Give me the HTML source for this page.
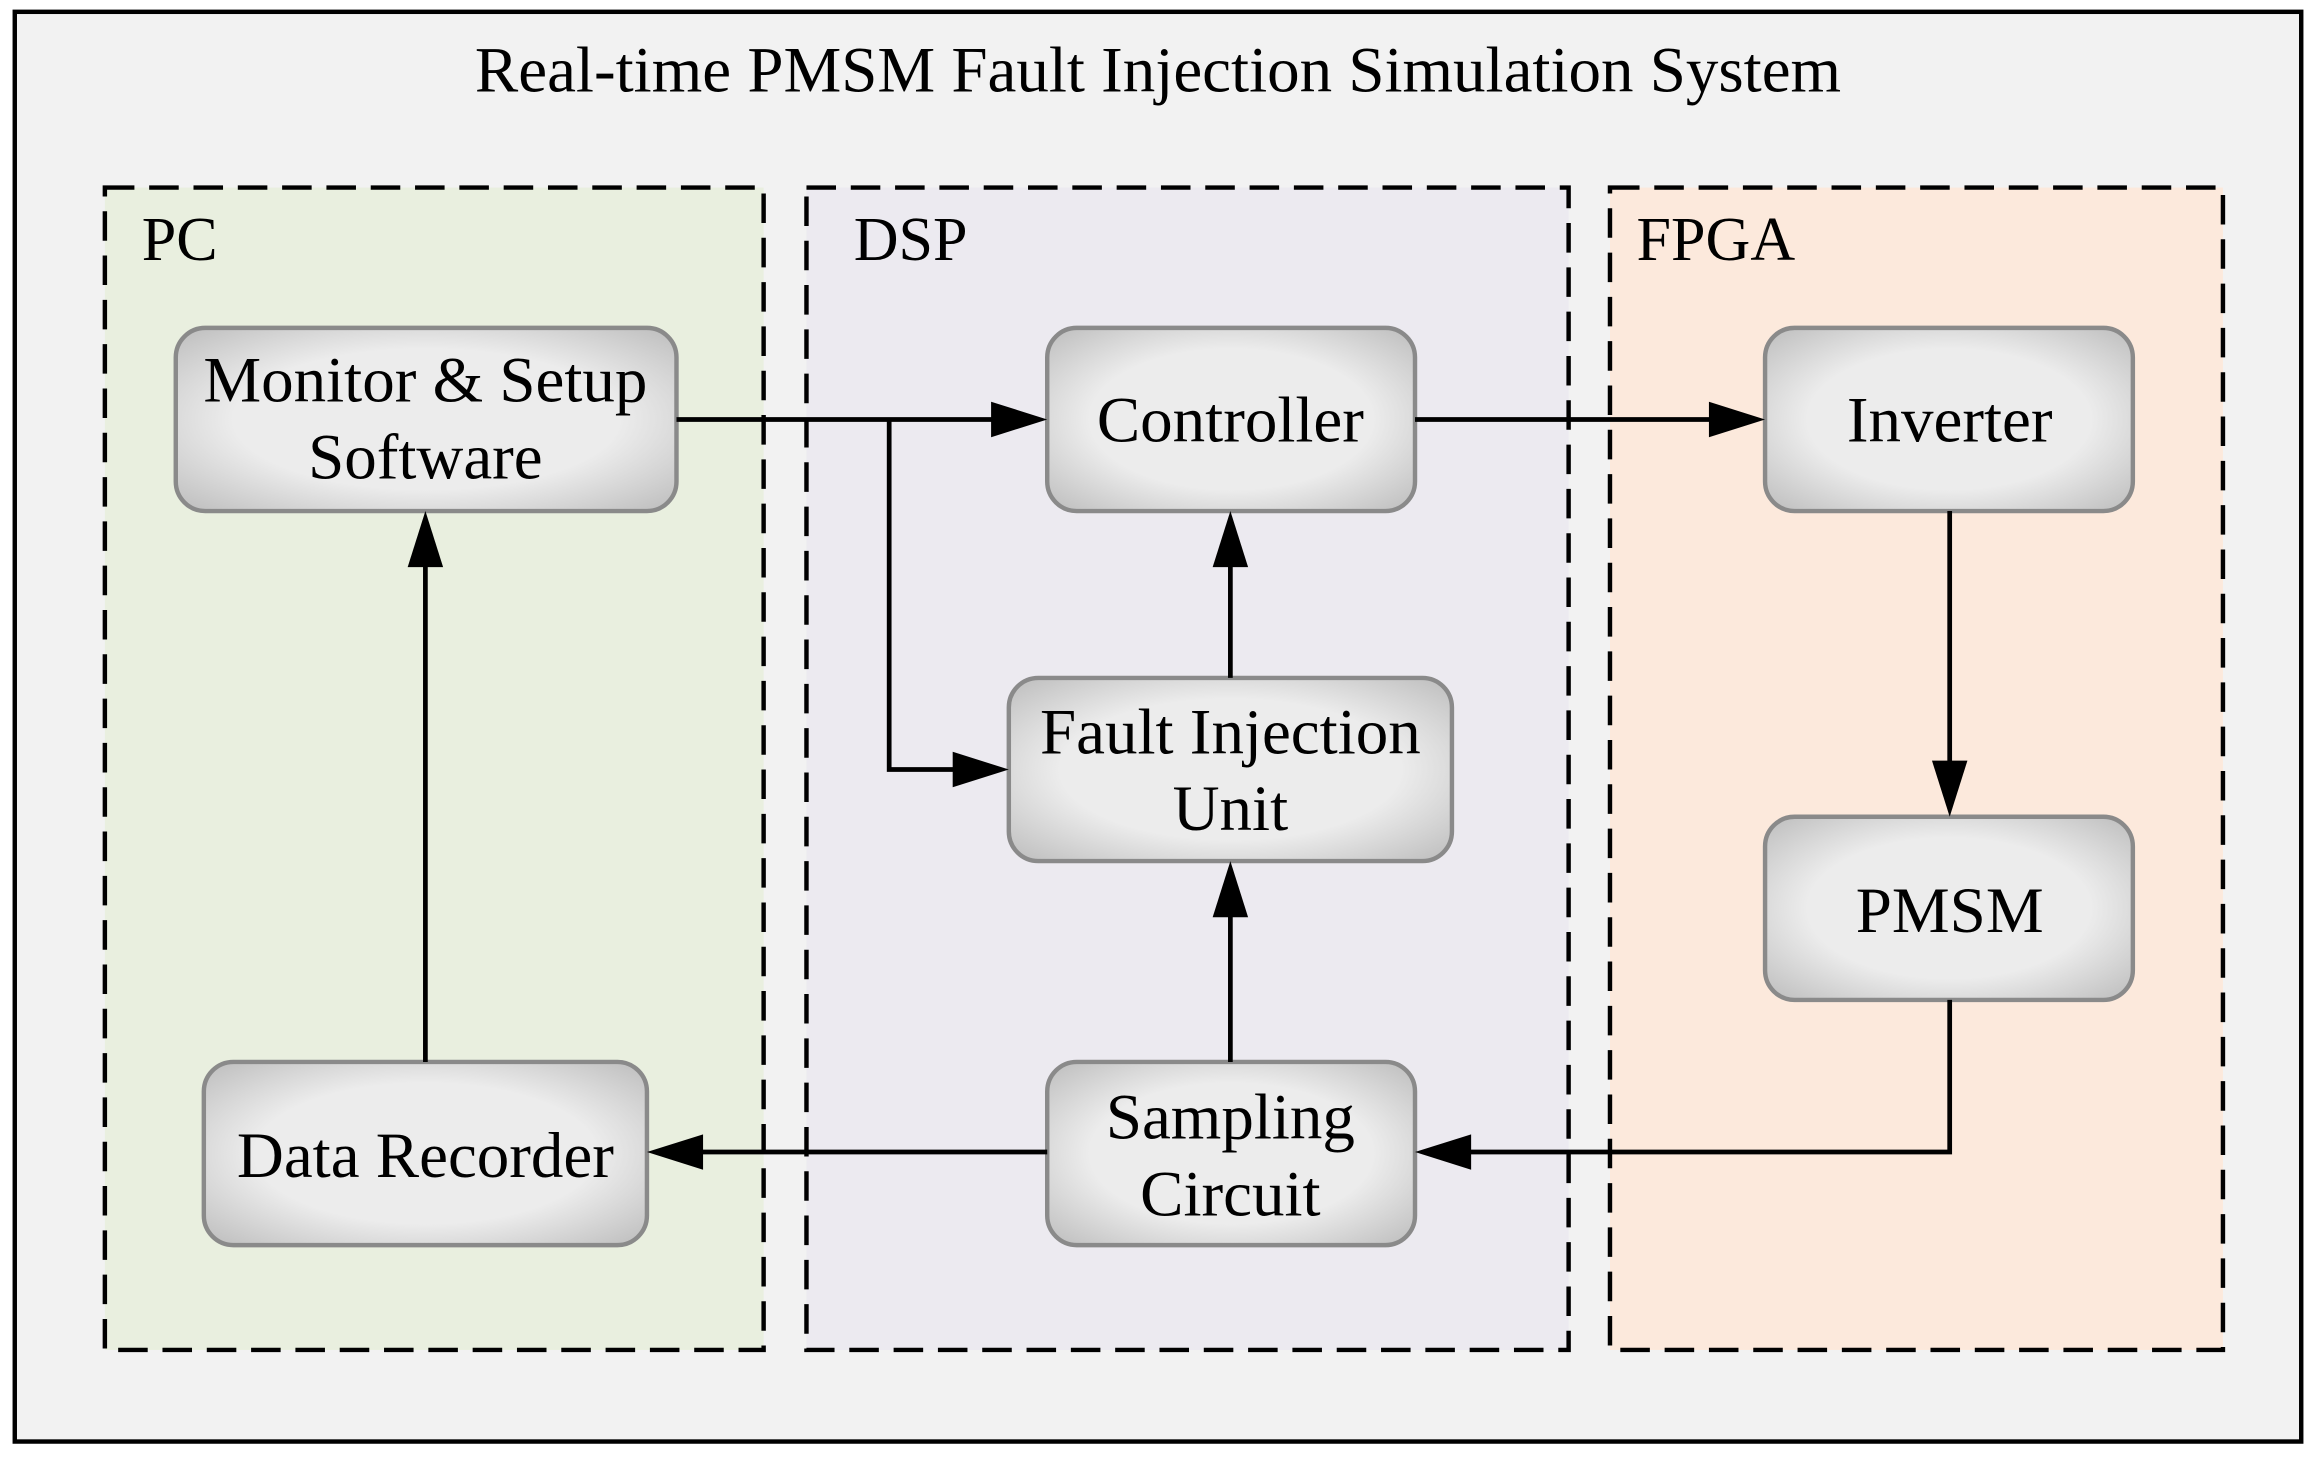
<!DOCTYPE html>
<html><head><meta charset="utf-8"><style>
html,body{margin:0;padding:0;background:#fff;}
svg{display:block;}
text{font-family:"Liberation Serif",serif;fill:#000;}
</style></head><body>
<svg width="2316" height="1460" viewBox="0 0 1568 988.5" preserveAspectRatio="none" xmlns="http://www.w3.org/2000/svg">
<defs>
<radialGradient id="g" cx="50%" cy="50%" r="70%">
<stop offset="0.55" stop-color="#ececec"/><stop offset="1" stop-color="#bdbdbd"/>
</radialGradient>
</defs>
<rect x="0" y="0" width="1568" height="988.5" fill="#fff"/>
<rect x="10" y="8" width="1548" height="968" fill="#f2f2f2" stroke="#000" stroke-width="3"/>
<text x="784" y="62" font-size="44" text-anchor="middle">Real-time PMSM Fault Injection Simulation System</text>
<g stroke="#000" stroke-width="3" stroke-dasharray="20,10">
<rect x="71" y="127" width="446" height="787" fill="#e9efdf"/>
<rect x="546" y="127" width="516" height="787" fill="#eceaf0"/>
<rect x="1090" y="127" width="415" height="787" fill="#fce9dc"/>
</g>
<text x="96" y="176" font-size="42">PC</text>
<text x="578" y="176" font-size="42">DSP</text>
<text x="1108" y="176" font-size="42">FPGA</text>
<g fill="url(#g)" stroke="#8a8a8a" stroke-width="3">
<rect x="119" y="222" width="339" height="124" rx="20"/>
<rect x="709" y="222" width="249" height="124" rx="20"/>
<rect x="1195" y="222" width="249" height="124" rx="20"/>
<rect x="683" y="459" width="300" height="124" rx="20"/>
<rect x="1195" y="553" width="249" height="124" rx="20"/>
<rect x="138" y="719" width="300" height="124" rx="20"/>
<rect x="709" y="719" width="249" height="124" rx="20"/>
</g>
<g font-size="44" text-anchor="middle">
<text x="288" y="272">Monitor &amp; Setup</text>
<text x="288" y="324">Software</text>
<text x="833" y="299">Controller</text>
<text x="1320" y="299">Inverter</text>
<text x="833" y="510">Fault Injection</text>
<text x="833" y="562">Unit</text>
<text x="1320" y="631">PMSM</text>
<text x="288" y="797">Data Recorder</text>
<text x="833" y="771">Sampling</text>
<text x="833" y="823">Circuit</text>
</g>
<g stroke="#000" stroke-width="3.2" fill="none">
<polyline points="458,284 672,284"/>
<polyline points="602,284 602,521 646,521"/>
<polyline points="958,284 1158,284"/>
<polyline points="833,459 833,383"/>
<polyline points="833,719 833,620"/>
<polyline points="1320,346 1320,516"/>
<polyline points="1320,677 1320,780 995,780"/>
<polyline points="709,780 475,780"/>
<polyline points="288,719 288,383"/>
</g>
<g fill="#000">
<polygon points="709,284 671,272 671,296"/>
<polygon points="683,521 645,509 645,533"/>
<polygon points="1195,284 1157,272 1157,296"/>
<polygon points="833,346 821,384 845,384"/>
<polygon points="833,583 821,621 845,621"/>
<polygon points="1320,553 1308,515 1332,515"/>
<polygon points="958,780 996,768 996,792"/>
<polygon points="438,780 476,768 476,792"/>
<polygon points="288,346 276,384 300,384"/>
</g>
</svg>
</body></html>
